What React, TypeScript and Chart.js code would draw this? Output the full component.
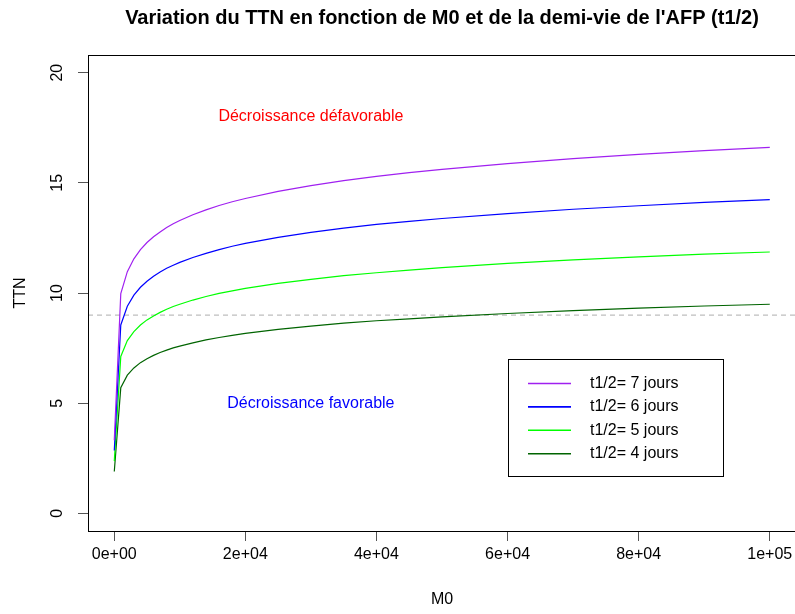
import React, { useEffect, useRef } from "react";
import { Chart, registerables } from "chart.js";

Chart.register(...registerables);

const FONT = "'Liberation Sans', Arial, Helvetica, sans-serif";

const titleText = "Variation du TTN en fonction de M0 et de la demi-vie de l'AFP (t1/2)";
const xAxisTitle = "M0";
const yAxisTitle = "TTN";

const M0 = [10, 1000, 2000, 3000, 4000, 5000, 6000, 7000, 8000, 9000, 10000, 12000, 14000, 16000, 18000, 20000, 25000, 30000, 35000, 40000, 45000, 50000, 60000, 70000, 80000, 90000, 100000];

const ttn7 = [3.32, 9.97, 10.97, 11.55, 11.97, 12.29, 12.55, 12.77, 12.97, 13.14, 13.29, 13.55, 13.77, 13.97, 14.14, 14.29, 14.61, 14.87, 15.1, 15.29, 15.46, 15.61, 15.87, 16.1, 16.29, 16.46, 16.61];
const ttn6 = [2.85, 8.55, 9.4, 9.9, 10.26, 10.53, 10.76, 10.95, 11.12, 11.26, 11.39, 11.61, 11.8, 11.97, 12.12, 12.25, 12.52, 12.75, 12.94, 13.11, 13.25, 13.38, 13.6, 13.8, 13.96, 14.11, 14.24];
const ttn5 = [2.37, 7.12, 7.84, 8.25, 8.55, 8.78, 8.96, 9.12, 9.26, 9.39, 9.49, 9.68, 9.84, 9.98, 10.1, 10.21, 10.44, 10.62, 10.79, 10.92, 11.04, 11.15, 11.34, 11.5, 11.64, 11.76, 11.86];
const ttn4 = [1.9, 5.7, 6.27, 6.6, 6.84, 7.02, 7.17, 7.3, 7.41, 7.51, 7.59, 7.74, 7.87, 7.98, 8.08, 8.17, 8.35, 8.5, 8.63, 8.74, 8.83, 8.92, 9.07, 9.2, 9.31, 9.41, 9.49];

const seuilX = [-4000, 104000];
const seuilY = [9, 9];

const seriesLabels = ["t1/2= 7 jours", "t1/2= 6 jours", "t1/2= 5 jours", "t1/2= 4 jours"];
const seriesColors = ["#A020F0", "#0000FF", "#00FF00", "#006400"];

const xTicks = [0, 20000, 40000, 60000, 80000, 100000];
const xTickLabels = ["0e+00", "2e+04", "4e+04", "6e+04", "8e+04", "1e+05"];
const yTicks = [0, 5, 10, 15, 20];
const yTickLabels = ["0", "5", "10", "15", "20"];

const annotations = [
  { x: 30000, y: 18, text: "Décroissance défavorable", color: "#FF0000" },
  { x: 30000, y: 5, text: "Décroissance favorable", color: "#0000FF" },
];
const legendAnchor = { x: 60000, y: 7 };

const toPoints = (xs: number[], ys: number[]) => xs.map((x, i) => ({ x, y: ys[i] }));

const decorPlugin = {
  id: "decor",
  afterDraw(chart: any) {
    const { ctx, chartArea: a, scales } = chart;
    const xs = scales.x;
    const ys = scales.y;
    ctx.save();
    ctx.strokeStyle = "#000";
    ctx.lineWidth = 1;
    ctx.strokeRect(Math.round(a.left) + 0.5, Math.round(a.top) + 0.5, Math.round(a.right - a.left), Math.round(a.bottom - a.top));

    ctx.fillStyle = "#000";
    ctx.font = `bold 20px ${FONT}`;
    ctx.textAlign = "center";
    ctx.textBaseline = "middle";
    ctx.fillText(titleText, (a.left + a.right) / 2, 18);

    ctx.font = `16px ${FONT}`;
    yTicks.forEach((v, i) => {
      const py = ys.getPixelForValue(v);
      ctx.save();
      ctx.translate(58, py);
      ctx.rotate(-Math.PI / 2);
      ctx.fillText(yTickLabels[i], 0, 0);
      ctx.restore();
    });

    ctx.fillText(xAxisTitle, (a.left + a.right) / 2, 600);
    ctx.save();
    ctx.translate(21, (a.top + a.bottom) / 2);
    ctx.rotate(-Math.PI / 2);
    ctx.fillText(yAxisTitle, 0, 0);
    ctx.restore();

    annotations.forEach((an) => {
      ctx.fillStyle = an.color;
      ctx.fillText(an.text, xs.getPixelForValue(an.x), ys.getPixelForValue(an.y));
    });

    const lx = Math.round(xs.getPixelForValue(legendAnchor.x));
    const ly = Math.round(ys.getPixelForValue(legendAnchor.y));
    const lw = 215;
    const lh = 117;
    ctx.fillStyle = "#fff";
    ctx.fillRect(lx, ly, lw, lh);
    ctx.strokeStyle = "#000";
    ctx.lineWidth = 1;
    ctx.strokeRect(lx + 0.5, ly + 0.5, lw, lh);
    ctx.textAlign = "left";
    seriesLabels.forEach((lab, i) => {
      const cy = ly + 24.5 + i * 23.4;
      ctx.strokeStyle = seriesColors[i];
      ctx.lineWidth = 1.6;
      ctx.beginPath();
      ctx.moveTo(lx + 20, cy);
      ctx.lineTo(lx + 63, cy);
      ctx.stroke();
      ctx.fillStyle = "#000";
      ctx.fillText(lab, lx + 82, cy);
    });
    ctx.restore();
  },
};

export default function App() {
  const ref = useRef<HTMLCanvasElement | null>(null);
  useEffect(() => {
    if (!ref.current) return;
    const seriesData = [ttn7, ttn6, ttn5, ttn4];
    const datasets: any[] = seriesData.map((ys, i) => ({
      label: seriesLabels[i],
      data: toPoints(M0, ys),
      borderColor: seriesColors[i],
      backgroundColor: seriesColors[i],
      borderWidth: 1.2,
      pointRadius: 0,
      tension: 0,
      fill: false,
    }));
    datasets.push({
      label: "seuil",
      data: toPoints(seuilX, seuilY),
      borderColor: "#BEBEBE",
      borderWidth: 1.2,
      borderDash: [5, 4],
      pointRadius: 0,
      fill: false,
    });
    const chart = new Chart(ref.current, {
      type: "line",
      data: { datasets },
      plugins: [decorPlugin],
      options: {
        animation: false,
        responsive: false,
        devicePixelRatio: 1,
        layout: { padding: { top: 55, right: 4, left: 0, bottom: 0 } },
        plugins: { legend: { display: false }, title: { display: false }, tooltip: { enabled: false } },
        scales: {
          x: {
            type: "linear",
            min: -4000,
            max: 104000,
            afterBuildTicks: (s: any) => {
              s.ticks = xTicks.map((v) => ({ value: v }));
            },
            afterFit: (s: any) => {
              s.height = 83;
            },
            ticks: {
              autoSkip: false,
              maxRotation: 0,
              minRotation: 0,
              padding: 4,
              color: "#000",
              font: { size: 16, family: FONT },
              callback: (_v: any, i: number) => xTickLabels[i],
            },
            grid: { drawOnChartArea: false, drawTicks: true, tickLength: 10, color: "#555" },
            border: { display: false },
          },
          y: {
            type: "linear",
            min: -0.8,
            max: 20.8,
            afterBuildTicks: (s: any) => {
              s.ticks = yTicks.map((v) => ({ value: v }));
            },
            afterFit: (s: any) => {
              s.width = 88;
            },
            ticks: { display: false },
            grid: { drawOnChartArea: false, drawTicks: true, tickLength: 10, color: "#555" },
            border: { display: false },
          },
        },
      },
    } as any);
    return () => chart.destroy();
  }, []);
  return (
    <div style={{ position: "fixed", left: 0, top: 0, width: 795, height: 614, overflow: "hidden", background: "#fff" }}>
      <canvas ref={ref} width={800} height={614} style={{ display: "block", width: 800, height: 614 }} />
    </div>
  );
}
